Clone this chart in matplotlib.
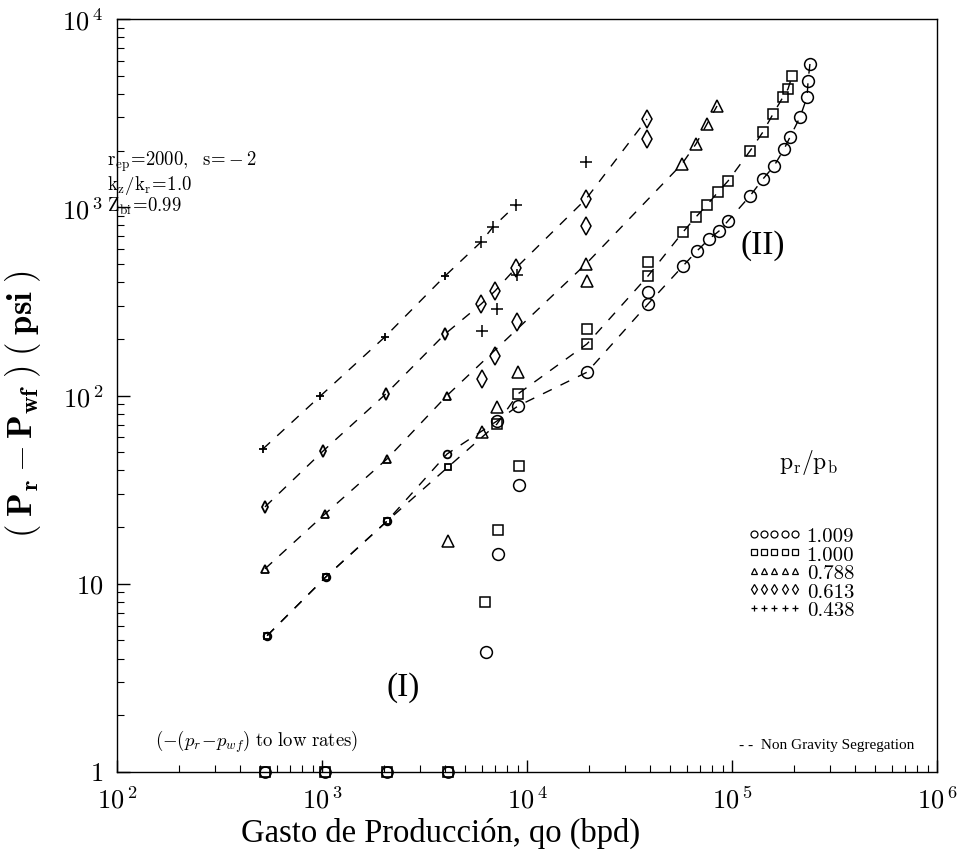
import matplotlib
matplotlib.use('Agg')
import matplotlib.pyplot as plt
from matplotlib.lines import Line2D
from matplotlib.ticker import FixedLocator, LogLocator, NullFormatter

plt.rcParams['mathtext.fontset'] = 'cm'
plt.rcParams['font.family'] = ['Liberation Serif', 'DejaVu Serif']

# ---------------- data ----------------
# p_r/p_b = 0.438  (+)
q_plus_ng = [515, 978, 2030, 3980, 5970, 6820, 8840]
dp_plus_ng = [52, 99, 205, 431, 654, 785, 1028]
q_plus_g = [6030, 7140, 8940, 19400]
dp_plus_g = [220, 288, 437, 1740]

# p_r/p_b = 0.613  (diamond)
q_dia_ng = [527, 1012, 2050, 3980, 5970, 6980, 8840, 19400, 38500]
dp_dia_ng = [25.6, 50.7, 102, 212, 306, 359, 476, 1106, 2943]
q_dia_g = [6030, 6980, 8940, 19400, 38500]
dp_dia_g = [122, 162, 246, 795, 2305]

# p_r/p_b = 0.788  (triangle)
q_tri_ng = [527, 1035, 2075, 4074, 19400, 57000, 66700, 75500, 84500]
dp_tri_ng = [12.0, 23.5, 46.0, 100, 500, 1698, 2168, 2768, 3450]
q_tri_g = [4121, 6030, 7140, 9040, 19630]
dp_tri_g = [16.9, 64.0, 86.9, 133, 406]

# p_r/p_b = 1.000  (square)
q_sq_ng = [540, 1047, 2075, 4121, 7140, 9040, 19630, 38900, 57700, 66700,
           75500, 85500, 95600, 122400, 141600, 158500, 177400, 187600, 196300]
dp_sq_ng = [5.3, 10.9, 21.5, 41.7, 70.6, 102, 188, 431, 739, 888,
            1028, 1205, 1378, 1990, 2512, 3127, 3852, 4249, 4977]
q_sq_g = [6240, 7220, 9140, 19630, 38900]
dp_sq_g = [8.0, 19.3, 42.2, 226, 512]

# p_r/p_b = 1.009  (circle)
q_ci_ng = [540, 1047, 2075, 4074, 7140, 9040, 19630, 38900, 57700, 67500,
           77300, 86500, 95600, 122400, 141600, 160300, 179500, 191900,
           214800, 232400, 235000, 240000]
dp_ci_ng = [5.3, 10.9, 21.5, 48.9, 73.2, 88.0, 133, 306, 488, 586,
            678, 748, 846, 1148, 1413, 1656, 2038, 2360,
            3015, 3852, 4688, 5768]
q_ci_g = [6310, 7220, 9140, 38900]
dp_ci_g = [4.34, 14.4, 33.5, 355]

# negative drawdowns at low rates, shown at 1
q_low = [530, 1040, 2070, 4100]
dp_low = [1, 1, 1, 1]

legend_values = ['1.009', '1.000', '0.788', '0.613', '0.438']
x_ticks = [1e2, 1e3, 1e4, 1e5, 1e6]
x_ticklabels = [r'$10^{\,2}$', r'$10^{\,3}$', r'$10^{\,4}$', r'$10^{\,5}$', r'$10^{\,6}$']
y_ticks = [1, 1e1, 1e2, 1e3, 1e4]
y_ticklabels = [r'$1$', r'$10$', r'$10^{\,2}$', r'$10^{\,3}$', r'$10^{\,4}$']

# ---------------- figure ----------------
fig = plt.figure(figsize=(9.66, 8.62), dpi=100)
ax = fig.add_axes([117/966, 1-773/862, 820/966, 753/862])
ax.set_xscale('log')
ax.set_yscale('log')
ax.set_xlim(1e2, 1e6)
ax.set_ylim(1, 1e4)

dash = (0, (7, 7))
series = [
    (q_ci_ng, dp_ci_ng, q_ci_g, dp_ci_g, 'o', 8.5),
    (q_sq_ng, dp_sq_ng, q_sq_g, dp_sq_g, 's', 7.5),
    (q_tri_ng, dp_tri_ng, q_tri_g, dp_tri_g, '^', 8.5),
    (q_dia_ng, dp_dia_ng, q_dia_g, dp_dia_g, 'd', 9),
    (q_plus_ng, dp_plus_ng, q_plus_g, dp_plus_g, '+', 9),
]
for qn, dn, qg, dg, m, ms in series:
    ax.plot(qn, dn, ls=dash, color='k', lw=1.0)
    ax.plot(qn[:4], dn[:4], ls='none', marker=m, ms=ms*0.65, mfc='none',
            mec='k', mew=1.3)
    ax.plot(qn[4:], dn[4:], ls='none', marker=m, ms=ms, mfc='none',
            mec='k', mew=1.1)
    ax.plot(qg, dg, ls='none', marker=m, ms=ms, mfc='none', mec='k', mew=1.1)

ax.plot(q_low, dp_low, ls='none', marker='o', ms=8, mfc='none', mec='k',
        mew=1.2, clip_on=False, zorder=5)
ax.plot(q_low, dp_low, ls='none', marker='s', ms=7, mfc='none', mec='k',
        mew=1.2, clip_on=False, zorder=5)

# ticks
ax.xaxis.set_major_locator(FixedLocator(x_ticks))
ax.set_xticklabels(x_ticklabels, fontsize=19)
ax.yaxis.set_major_locator(FixedLocator(y_ticks))
ax.set_yticklabels(y_ticklabels, fontsize=19)
ax.xaxis.set_minor_locator(LogLocator(base=10, subs=range(2, 10), numticks=20))
ax.yaxis.set_minor_locator(LogLocator(base=10, subs=range(2, 10), numticks=20))
ax.xaxis.set_minor_formatter(NullFormatter())
ax.yaxis.set_minor_formatter(NullFormatter())
ax.tick_params(which='major', direction='in', length=9, width=1.0, pad=10)
ax.tick_params(which='minor', direction='in', length=5, width=0.8)
for s in ax.spines.values():
    s.set_linewidth(1.0)

# labels
ax.set_xlabel('Gasto de Producción, qo (bpd)', fontsize=23.5)
ax.xaxis.set_label_coords(0.394, -0.060)
ax.set_ylabel(r'$\mathbf{(\;P_r - P_{wf}\;)\;(\;psi\;)}$', fontsize=25)
ax.yaxis.set_label_coords(-0.090, 0.49)

# annotations
params_text = ('$\\mathrm{r_{ep}\\!=\\!2000,\\ \\ s\\!=\\!-2}$\n'
               '$\\mathrm{k_z/k_r\\!=\\!1.0}$\n'
               '$\\mathrm{Z_{bi}\\!=\\!0.99}$')
ax.text(-0.012, 0.783, params_text, fontsize=13.5, linespacing=0.95,
        transform=ax.transAxes, va='center', ha='left')
ax.text(0.787, 0.700, '(II)', fontsize=24, transform=ax.transAxes,
        ha='center', va='center')
ax.text(0.349, 0.113, '(I)', fontsize=24, transform=ax.transAxes,
        ha='center', va='center')
ax.text(0.046, 0.041, r'$(-(p_r\!-\!p_{wf})\ \mathrm{to\ low\ rates})$',
        fontsize=13.5, transform=ax.transAxes, ha='left', va='center')
ax.text(0.972, 0.037, '- -  Non Gravity Segregation', fontsize=11,
        transform=ax.transAxes, ha='right', va='center')
ax.text(0.843, 0.413, r'$\mathrm{p_r/p_b}$', fontsize=17,
        transform=ax.transAxes, ha='center', va='center')

# legend
handles = [Line2D([], [], ls='none', marker=m, ms=5, mfc='none', mec='k', mew=0.9)
           for m in ['o', 's', '^', 'd', '+']]
leg = ax.legend(handles, legend_values, numpoints=5, handlelength=2.6,
                handletextpad=0.25, labelspacing=0.0, frameon=False,
                loc='upper left', bbox_to_anchor=(0.756, 0.340),
                borderpad=0, prop={'family': 'cmr10', 'size': 15})

fig.savefig('out.png', dpi=100)
